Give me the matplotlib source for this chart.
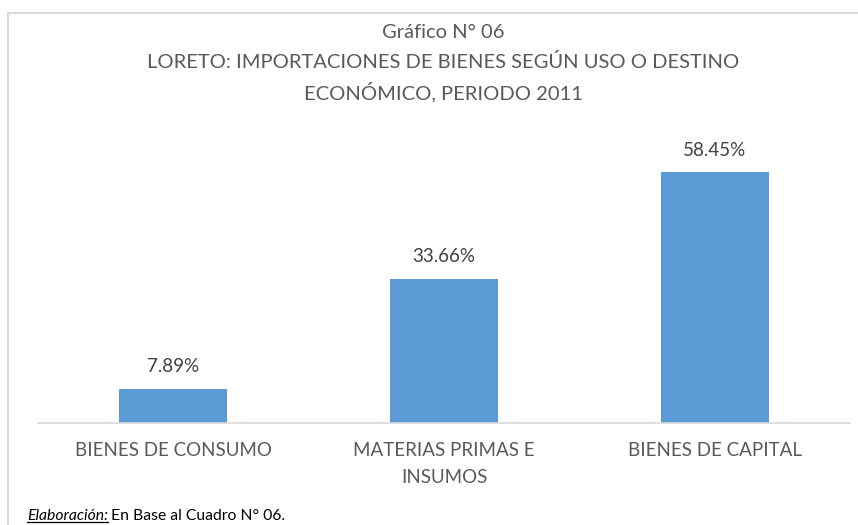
import matplotlib
matplotlib.use("Agg")
import matplotlib.pyplot as plt
from matplotlib.lines import Line2D

categorias = ["BIENES DE CONSUMO", "MATERIAS PRIMAS E\nINSUMOS", "BIENES DE CAPITAL"]
valores = [7.89, 33.66, 58.45]
etiquetas = ["7.89%", "33.66%", "58.45%"]

plt.rcParams['font.family'] = ['Lato', 'DejaVu Sans']
W, H = 858, 525
fig = plt.figure(figsize=(W / 100, H / 100), dpi=100)

# axes: x 38..850 px, y baseline 423, top 140
ax = fig.add_axes([38 / W, 1 - 423 / H, 812 / W, 283 / H])
x = range(len(categorias))
bars = ax.bar(x, valores, width=0.4, color="#5b9bd5")
for b, t in zip(bars, etiquetas):
    ax.text(b.get_x() + b.get_width() / 2, b.get_height() + 3.2, t,
            ha="center", va="bottom", fontsize=13.5, color="#404040")
ax.set_xlim(-0.5, 2.5)
ax.set_ylim(0, 66)
ax.set_yticks([])
ax.set_xticks(list(x))
ax.set_xticklabels(categorias, fontsize=13.5, color="#595959", linespacing=1.65)
ax.tick_params(axis="x", length=0, pad=14)
for s in ["top", "right", "left"]:
    ax.spines[s].set_visible(False)
ax.spines["bottom"].set_color("#d9d9d9")
ax.spines["bottom"].set_linewidth(1.2)

cx = 443 / W
fig.text(cx, 1 - 33 / H, "Gráfico N° 06", ha="center", va="center", fontsize=14.5, color="#595959")
fig.text(cx, 1 - 62 / H, "LORETO: IMPORTACIONES DE BIENES SEGÚN USO O DESTINO",
         ha="center", va="center", fontsize=14.5, color="#595959")
fig.text(cx, 1 - 92 / H, "ECONÓMICO, PERIODO 2011", ha="center", va="center",
         fontsize=14.5, color="#595959")

# frame lines (top and left)
fig.add_artist(Line2D([8 / W, 1], [1 - 13 / H, 1 - 13 / H], color="#d9d9d9", lw=1.5))
fig.add_artist(Line2D([8 / W, 8 / W], [1 - 13 / H, 0], color="#d9d9d9", lw=1.5))

# footer
t1 = fig.text(27 / W, 1 - 516 / H, "Elaboración:", ha="left", va="center",
              fontsize=11.3, style="italic", color="black")
fig.canvas.draw()
r = fig.canvas.get_renderer()
bb = t1.get_window_extent(r)
fig.add_artist(Line2D([bb.x0 / W, bb.x1 / W], [(bb.y0 + 1) / H, (bb.y0 + 1) / H],
                      color="black", lw=0.9))
fig.text((bb.x1 + 3) / W, 1 - 516 / H, "En Base al Cuadro N° 06.", ha="left", va="center",
         fontsize=11.3, color="black")

fig.savefig("out.png", dpi=100)
